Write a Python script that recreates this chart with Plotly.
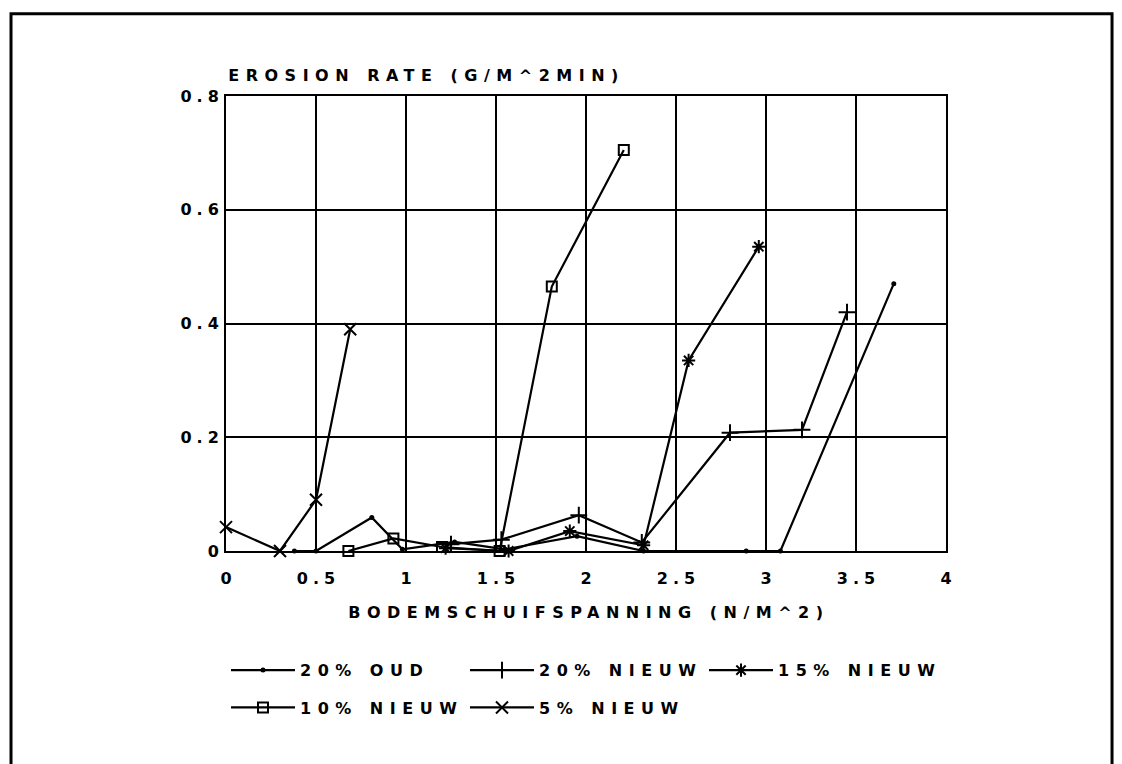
import plotly.graph_objects as go

# Bottom shear stress (N/m^2) and erosion rate (g/m^2 min) per mixture
oud20_x = [0.38, 0.5, 0.81, 0.98, 1.27, 1.55, 1.95, 2.32, 2.89, 3.08, 3.71]
oud20_y = [0.0, 0.0, 0.059, 0.003, 0.016, 0.003, 0.026, 0.0, 0.0, 0.0, 0.47]

nieuw20_x = [1.25, 1.53, 1.96, 2.31, 2.8, 3.2, 3.45]
nieuw20_y = [0.012, 0.02, 0.063, 0.015, 0.208, 0.213, 0.42]

nieuw15_x = [1.22, 1.57, 1.91, 2.32, 2.57, 2.96]
nieuw15_y = [0.005, 0.0, 0.035, 0.01, 0.335, 0.535]

nieuw10_x = [0.68, 0.93, 1.2, 1.52, 1.81, 2.21]
nieuw10_y = [0.0, 0.022, 0.007, 0.0, 0.465, 0.705]

nieuw5_x = [0.0, 0.3, 0.5, 0.69]
nieuw5_y = [0.042, 0.0, 0.09, 0.39]

x_ticks = [0, 0.5, 1, 1.5, 2, 2.5, 3, 3.5, 4]
x_ticktext = ["0", "0.5", "1", "1.5", "2", "2.5", "3", "3.5", "4"]
y_ticks = [0, 0.2, 0.4, 0.6, 0.8]
y_ticktext = ["0", "0.2", "0.4", "0.6", "0.8"]

FONT = "DejaVu Sans"
INK = "black"
TXT = dict(family=FONT, size=16, color=INK, weight="bold")

series = [
    ("20% OUD", oud20_x, oud20_y, dict(symbol="circle", size=5, color=INK), "legend"),
    ("20% NIEUW", nieuw20_x, nieuw20_y,
     dict(symbol="cross-thin", size=12, color=INK, line=dict(color=INK, width=2)), "legend"),
    ("15% NIEUW", nieuw15_x, nieuw15_y,
     dict(symbol="asterisk", size=11, color=INK, line=dict(color=INK, width=2)), "legend"),
    ("10% NIEUW", nieuw10_x, nieuw10_y,
     dict(symbol="square-open", size=10, color=INK, line=dict(color=INK, width=2)), "legend2"),
    ("5% NIEUW", nieuw5_x, nieuw5_y,
     dict(symbol="x-thin", size=12, color=INK, line=dict(color=INK, width=2)), "legend2"),
]

fig = go.Figure()
for name, xs, ys, marker, leg in series:
    fig.add_trace(go.Scatter(
        x=xs, y=ys, name=name, mode="lines+markers",
        line=dict(color=INK, width=2.2), marker=marker,
        cliponaxis=False, legend=leg,
    ))

axis_common = dict(
    showgrid=True, gridcolor=INK, gridwidth=2,
    showline=True, linecolor=INK, linewidth=2, mirror=True,
    zeroline=False, ticks="", tickfont=TXT,
)

legend_common = dict(
    orientation="h", xanchor="left", yanchor="middle",
    font=TXT, bgcolor="rgba(0,0,0,0)", itemwidth=64,
    entrywidth=160, entrywidthmode="pixels", itemclick=False,
)

fig.update_layout(
    width=1122, height=764,
    margin=dict(l=226, r=176, t=96, b=213, autoexpand=False),
    paper_bgcolor="white", plot_bgcolor="white",
    font=TXT,
    xaxis=dict(range=[0, 4], tickvals=x_ticks, ticktext=x_ticktext,
               ticklabelstandoff=12, automargin=False, **axis_common),
    yaxis=dict(range=[0, 0.8], tickvals=y_ticks, ticktext=y_ticktext,
               ticklabelstandoff=2, automargin=False, **axis_common),
    legend=dict(x=0.0, y=-0.262, **legend_common),
    legend2=dict(x=0.0, y=-0.344, **legend_common),
    annotations=[
        dict(text="EROSION RATE (G/M^2MIN)", xref="paper", yref="paper",
             x=0.279, y=1, xanchor="center", yanchor="middle", yshift=21,
             showarrow=False, font=TXT),
        dict(text="BODEMSCHUIFSPANNING (N/M^2)", xref="paper", yref="paper",
             x=0.504, y=0, xanchor="center", yanchor="middle", yshift=-61,
             showarrow=False, font=TXT),
    ],
    shapes=[
        # page frame around the figure
        dict(type="rect", xref="paper", yref="paper",
             x0=-0.2986, x1=1.2306, y0=-0.6, y1=1.1806,
             line=dict(color=INK, width=3), fillcolor="rgba(0,0,0,0)", layer="below"),
    ],
)

# Wide plotter-style lettering for every SVG text, a bit tighter on tick labels
post = """
var css = document.createElement('style');
css.textContent =
  'svg text { letter-spacing: 6.5px !important; }' +
  '.xtick text, .ytick text { letter-spacing: 5px !important; }';
document.head.appendChild(css);
var gd = document.getElementById('{plot_id}');
function shiftTicks(){
  gd.querySelectorAll('.xtick text').forEach(function(t){ t.setAttribute('dx', '2.5'); });
  gd.querySelectorAll('.ytick text').forEach(function(t){ t.setAttribute('dx', '5'); });
}
shiftTicks();
if (gd.on) { gd.on('plotly_afterplot', shiftTicks); }
"""

fig.write_html("out.html", post_script=post, config=dict(displayModeBar=False, responsive=False))
